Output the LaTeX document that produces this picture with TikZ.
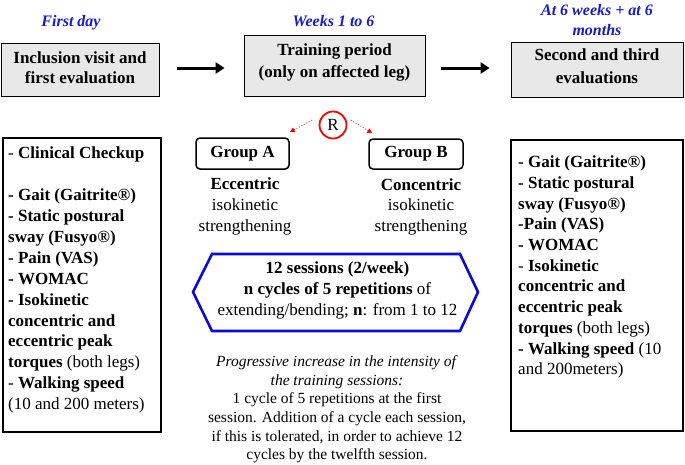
\documentclass[tikz,border=0pt]{standalone}
\usepackage{fontspec}
\setmainfont{Liberation Serif}
\usetikzlibrary{arrows.meta}
\definecolor{hblue}{RGB}{25,25,205}
\definecolor{hexblue}{RGB}{10,10,215}
\definecolor{boxgray}{RGB}{232,232,232}
\begin{document}
\begin{tikzpicture}[x=1pt,y=-1pt,
  topbox/.style={draw=black, line width=0.8pt, fill=boxgray, inner sep=0pt},
  bigbox/.style={draw=black, line width=2pt, inner sep=0pt},
  grpbox/.style={draw=black, rounded corners=4pt, line width=1.5pt, inner sep=0pt,
                 font=\fontsize{17}{20}\selectfont\bfseries},
  hdr/.style={text=hblue, font=\fontsize{16}{20.5}\selectfont\bfseries\itshape,
              align=center, inner sep=0pt, anchor=north},
  btxt/.style={font=\fontsize{17}{20}\selectfont\bfseries, align=center, inner sep=0pt, anchor=north},
  ctxt/.style={font=\fontsize{17}{21}\selectfont, align=center, inner sep=0pt, anchor=north},
  ltxt/.style={font=\fontsize{17}{20.9}\selectfont, align=left, inner sep=0pt, anchor=north west},
  bigarrow/.style={line width=3pt, -{Triangle[length=9pt,width=11pt]}},
  rarrow/.style={draw=red, line width=0.8pt, dotted, -{Triangle[length=5pt,width=5pt]}},
  hexline/.style={draw=hexblue, line width=2.6pt, line join=miter}
]
\useasboundingbox (0,0) rectangle (685,464);

% headers
\node[hdr] (h1) at (71,15) {First day};
\node[hdr] (h2) at (333.5,15) {Weeks 1 to 6};
\node[hdr] (h3) at (597,4) {At 6 weeks + at 6\\months};

% top boxes
\node[topbox, minimum width=158pt, minimum height=53pt] (b1) at (80,69.5) {};
\node[topbox, minimum width=181pt, minimum height=61pt] (b2) at (334.5,65.5) {};
\node[topbox, minimum width=172pt, minimum height=55pt] (b3) at (597,69.5) {};
\node[btxt] (t1) at (80,51.8) {Inclusion visit and\\first evaluation};
\node[btxt, font=\fontsize{17}{22}\selectfont\bfseries] (t2) at (334.5,43.8) {Training period\\(only on affected leg)};
\node[btxt, font=\fontsize{17}{23}\selectfont\bfseries] (t3) at (597,48.8) {Second and third\\evaluations};

\draw[bigarrow] ([shift={(18pt,1.5pt)}]b1.east) -- ([shift={(-19pt,-2.5pt)}]b2.west);
\draw[bigarrow] ([shift={(16pt,-2.5pt)}]b2.east) -- ([shift={(-21pt,1.5pt)}]b3.west);

% randomisation
\node[circle, draw=red, line width=1.8pt, minimum size=27pt, inner sep=0pt,
      font=\fontsize{17}{20}\selectfont] (R) at (333,125) {R};
\node[grpbox, minimum width=93pt, minimum height=31pt] (gA) at (242.5,153.5) {Group A};
\node[grpbox, minimum width=94pt, minimum height=30pt] (gB) at (416,154) {Group B};
\draw[rarrow] ([xshift=-7.5pt]R.160) -- ([yshift=5pt]gA.north east);
\draw[rarrow] ([xshift=4.5pt]R.20) -- ([shift={(4pt,5pt)}]gB.north west);

\node[ctxt] (ecc) at (245,177) {\textbf{Eccentric}\\isokinetic\\strengthening};
\node[ctxt, font=\fontsize{17}{20.5}\selectfont] (con) at (421,178) {\textbf{Concentric}\\isokinetic\\strengthening};

% big boxes
\node[bigbox, minimum width=158pt, minimum height=294pt] (L) at (82,285) {};
\node[bigbox, minimum width=172pt, minimum height=291pt] (Rb) at (597,285.5) {};

\node[ltxt] (Ltxt) at (8,146.8) {%
- \textbf{Clinical Checkup}\\[20.9pt]
\textbf{- Gait (Gaitrite®)}\\
\textbf{- Static postural}\\
\textbf{sway (Fusyo®)}\\
\textbf{- Pain (VAS)}\\
\textbf{- WOMAC}\\
\textbf{- Isokinetic}\\
\textbf{concentric and}\\
\textbf{eccentric peak}\\
\textbf{torques} (both legs)\\
- \textbf{Walking speed}\\
(10 and 200 meters)};

\node[ltxt, font=\fontsize{17}{20.7}\selectfont] (Rtxt) at (518,155.7) {%
\textbf{- Gait (Gaitrite®)}\\
\textbf{- Static postural}\\
\textbf{sway (Fusyo®)}\\
\textbf{-Pain (VAS)}\\
\textbf{- WOMAC}\\
- \textbf{Isokinetic}\\
\textbf{concentric and}\\
\textbf{eccentric peak}\\
\textbf{torques} (both legs)\\
\textbf{- Walking speed} (10\\
and 200meters)};

% hexagon
\draw[hexline] (193,292) -- (212,254) -- (460,254) -- (478,292) -- (460,331) -- (212,331) -- cycle;
\node[ctxt] (hex) at (337.5,261.8) {\textbf{12 sessions (2/week)}\\
\textbf{n cycles of 5 repetitions} of\\
extending/bending; \textbf{n}: from 1 to 12};

% bottom text
\node[ctxt, font=\fontsize{15.5}{18.6}\selectfont] (prog) at (337,355.5) {%
\textit{Progressive increase in the intensity of}\\
\textit{the training sessions:}\\
1 cycle of 5 repetitions at the first\\
session. Addition of a cycle each session,\\
if this is tolerated, in order to achieve 12\\
cycles by the twelfth session.};
\end{tikzpicture}
\end{document}
